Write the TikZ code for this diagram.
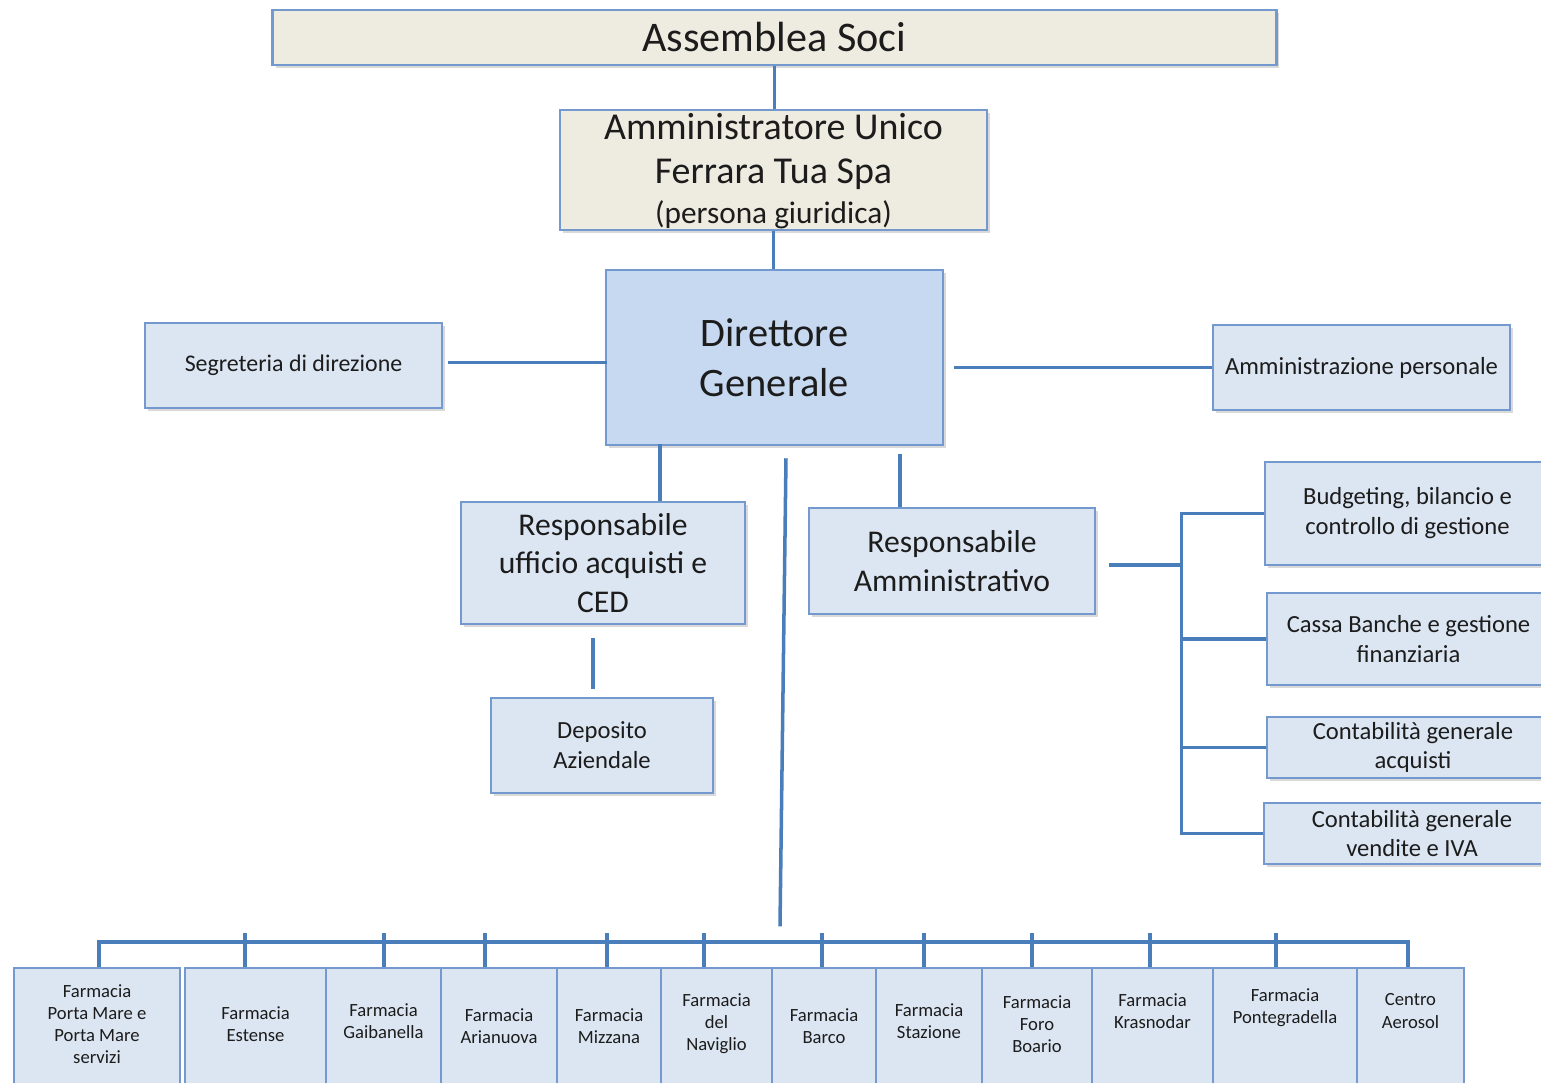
\documentclass[tikz,border=0pt]{standalone}
\usepackage{fontspec}
\setmainfont{Carlito}
\usetikzlibrary{positioning, calc, shadows}

\definecolor{beige}{HTML}{EEECE1}
\definecolor{pale}{HTML}{DCE6F2}
\definecolor{dirblue}{HTML}{C6D9F1}
\definecolor{edge}{HTML}{7399CE}
\definecolor{wire}{HTML}{4A7EBB}
\definecolor{ink}{HTML}{1C1C1C}

\begin{document}
\begin{tikzpicture}[
    x=0.01cm, y=-0.01cm,
    box/.style={draw=edge, line width=0.7pt, inner sep=0pt, align=center, text=ink,
                drop shadow={shadow xshift=0.8pt, shadow yshift=-0.9pt, opacity=0.3}},
    headbox/.style={box, fill=beige},
    unitbox/.style={box, fill=pale, font=\fontsize{7}{8.5}\selectfont},
    farm/.style={draw=edge, line width=0.7pt, fill=pale, inner sep=0pt, anchor=north, minimum height=1.3cm},
    ftxt/.style={align=center, text=ink, inner sep=0pt, font=\fontsize{5.3}{6.3}\selectfont},
    conn/.style={draw=wire, line width=1pt}
]
\useasboundingbox (0,0) rectangle (1541,1083);

% vertice
\node[headbox, minimum width=10.03cm, minimum height=0.55cm, font=\fontsize{12}{14}\selectfont] (asm) at (774.5,37.5) {Assemblea Soci};
\node[headbox, minimum width=4.27cm, minimum height=1.2cm, font=\fontsize{10.8}{12.5}\selectfont] (amm) at (773.5,170) {};
\node[font=\fontsize{10.8}{12.5}\selectfont, align=center, text=ink, inner sep=0pt] (ammtxt) at ($(amm.center)+(0,1)$)
    {Amministratore Unico\\Ferrara Tua Spa\\[-1.3pt]{\fontsize{8.9}{11.7}\selectfont (persona giuridica)}};
\node[box, fill=dirblue, minimum width=3.37cm, minimum height=1.75cm, font=\fontsize{11.5}{14.2}\selectfont] (dir) at (774.5,357.5) {Direttore\\Generale};

% staff e responsabili
\node[unitbox, minimum width=2.97cm, minimum height=0.85cm, font=\fontsize{6.8}{8}\selectfont] (seg) at (293.5,365.5) {Segreteria di direzione};
\node[unitbox, minimum width=2.97cm, minimum height=0.85cm] (pers) at (1361.5,367.5) {Amministrazione personale};
\node[unitbox, minimum width=2.84cm, minimum height=1.22cm, font=\fontsize{9}{11}\selectfont] (acq) at (603,563) {Responsabile\\ufficio acquisti e\\CED};
\node[unitbox, minimum width=2.22cm, minimum height=0.95cm] (dep) at (602,745.5) {Deposito\\Aziendale};
\node[unitbox, minimum width=2.86cm, minimum height=1.06cm, font=\fontsize{9}{11}\selectfont] (amv) at (952,561) {Responsabile\\Amministrativo};

% uffici amministrativi
\node[unitbox, minimum width=2.85cm, minimum height=1.03cm] (b1) at (1407.5,513.5) {Budgeting, bilancio e\\controllo di gestione};
\node[unitbox, minimum width=2.83cm, minimum height=0.92cm] (b2) at (1408.5,639) {Cassa Banche e gestione\\finanziaria};
\node[unitbox, minimum width=2.92cm, minimum height=0.61cm] (b3) at (1413,747.5) {Contabilità generale\\acquisti};
\node[unitbox, minimum width=2.96cm, minimum height=0.61cm] (b4) at (1412,833.5) {Contabilità generale\\vendite e IVA};

% collegamenti
\draw[conn] (asm.south) -- (asm.south |- amm.north);
\draw[conn] (amm.south) -- (amm.south |- dir.north);
\draw[conn] (seg.east) ++(5,-3) -- ++(159,0);
\draw[conn] (dir.east) ++(10,10) -- (pers.west);
\draw[conn] (acq.north) ++(57,0) -- ++(0,-57);
\draw[conn] (amv.north) ++(-52,0) -- ++(0,-53);
\draw[conn] (acq.south) ++(-10,13) -- ++(0,51);
\draw[conn] (dir.south) ++(11.5,12) -- ++(-6,468);
\draw[conn] (amv.east) ++(13,4) -- ++(72,0) coordinate (rb);
\draw[conn] (b1.west) -- (b1.west -| rb) -- (b4.west -| rb) -- (b4.west);
\foreach \b in {b2,b3}
    \draw[conn] (\b.west) -- (\b.west -| rb);

% farmacie
\foreach \xl/\xr/\dx/\tk/\ty/\txt [count=\i] in {
    14/180/2/0/57/{Farmacia\\Porta Mare e\\Porta Mare\\servizi},
    185/326/-10.5/34/57/{Farmacia\\Estense},
    326/441/0.5/34/54/{Farmacia\\Gaibanella},
    441/557/-14/34/59/{Farmacia\\Arianuova},
    557/661/-2/34/59/{Farmacia\\Mizzana},
    661/772/-12.5/34/57/{Farmacia\\del\\Naviglio},
    772/876/-2/34/59/{Farmacia\\Barco},
    876/982/-5/34/54/{Farmacia\\Stazione},
    982/1092/-5/34/57/{Farmacia\\Foro\\Boario},
    1092/1213/-2.5/34/44/{Farmacia\\Krasnodar},
    1213/1357/-9/34/41/{Farmacia\\Pontegradella},
    1357/1464/-2.5/0/44/{Centro\\Aerosol}}
{
    \node[farm, minimum width={(\xr-\xl)*0.01cm}] (f\i) at ({(\xl+\xr)/2},967) {};
    \node[ftxt] (t\i) at ($(f\i.north)+(0,\ty)$) {\txt};
    \draw[conn] (f\i.north) ++(\dx,0) -- ++(0,-\tk);
}
\draw[conn] (f1.north) ++(2,0) -- ++(0,-25) -| ([xshift=-0.025cm]f12.north);

\end{tikzpicture}
\end{document}
